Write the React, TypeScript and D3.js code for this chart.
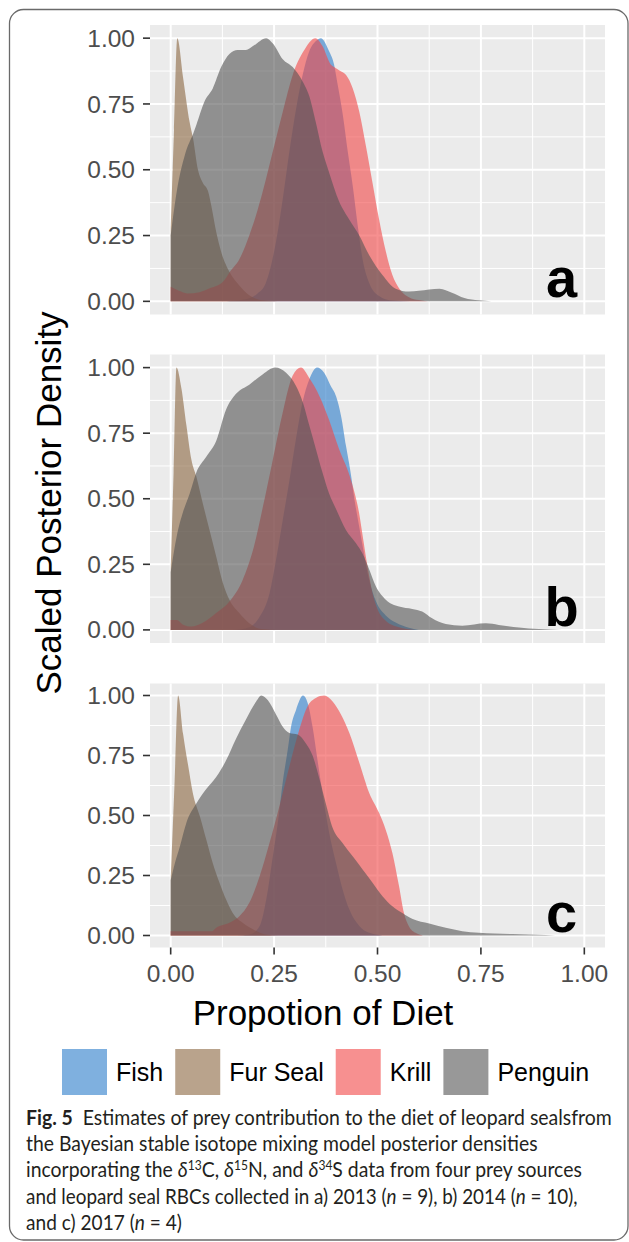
import React, { useEffect, useRef } from "react";
import * as d3 from "d3";

const W = 629;
const H = 1242;

const sources = ["Fish", "Fur Seal", "Krill", "Penguin"];
const sourceColors = ["#2A7BCA", "#8A663F", "#F24646", "#535353"];
const panelLabels = ["a", "b", "c"];
const tickValues = [0, 0.25, 0.5, 0.75, 1];
const minorValues = [0.125, 0.375, 0.625, 0.875];

// [proportion, scaled density]
const fishA = [[0, 0], [0.12, 0], [0.18, 0.008], [0.21, 0.03], [0.23, 0.07], [0.255, 0.23], [0.271, 0.39], [0.287, 0.57], [0.303, 0.73], [0.319, 0.86], [0.335, 0.95], [0.352, 0.99], [0.363, 1.0], [0.383, 0.95], [0.395, 0.9], [0.403, 0.83], [0.416, 0.71], [0.428, 0.57], [0.44, 0.44], [0.452, 0.29], [0.464, 0.16], [0.48, 0.07], [0.504, 0.02], [0.53, 0.004], [0.58, 0]];
const furA = [[0, 0.28], [0.008, 0.65], [0.016, 1.0], [0.03, 0.85], [0.046, 0.68], [0.054, 0.62], [0.066, 0.5], [0.078, 0.45], [0.09, 0.42], [0.098, 0.365], [0.11, 0.264], [0.122, 0.188], [0.142, 0.112], [0.166, 0.06], [0.19, 0.023], [0.223, 0.004], [0.26, 0]];
const krillA = [[0, 0.055], [0.02, 0.04], [0.04, 0.03], [0.07, 0.035], [0.09, 0.047], [0.127, 0.075], [0.142, 0.11], [0.166, 0.16], [0.19, 0.25], [0.205, 0.32], [0.223, 0.42], [0.247, 0.57], [0.271, 0.72], [0.295, 0.86], [0.321, 0.95], [0.35, 1.0], [0.367, 0.97], [0.387, 0.9], [0.395, 0.89], [0.41, 0.875], [0.424, 0.86], [0.44, 0.81], [0.456, 0.72], [0.472, 0.59], [0.488, 0.45], [0.504, 0.31], [0.52, 0.19], [0.536, 0.1], [0.552, 0.05], [0.576, 0.016], [0.6, 0.005], [0.63, 0]];
const penguinA = [[0, 0.25], [0.015, 0.42], [0.035, 0.56], [0.055, 0.64], [0.062, 0.67], [0.082, 0.76], [0.102, 0.81], [0.122, 0.89], [0.142, 0.94], [0.162, 0.955], [0.182, 0.955], [0.199, 0.97], [0.231, 1.0], [0.247, 0.98], [0.271, 0.92], [0.295, 0.89], [0.319, 0.835], [0.335, 0.78], [0.351, 0.68], [0.367, 0.57], [0.383, 0.49], [0.407, 0.38], [0.432, 0.31], [0.456, 0.25], [0.48, 0.175], [0.512, 0.1], [0.544, 0.048], [0.576, 0.037], [0.6, 0.04], [0.65, 0.048], [0.68, 0.033], [0.71, 0.013], [0.745, 0.004], [0.775, 0]];

const fishB = [[0, 0], [0.15, 0], [0.19, 0.01], [0.215, 0.05], [0.239, 0.14], [0.255, 0.27], [0.271, 0.42], [0.287, 0.57], [0.303, 0.73], [0.319, 0.87], [0.335, 0.955], [0.354, 1.0], [0.371, 0.98], [0.387, 0.93], [0.4, 0.89], [0.412, 0.815], [0.424, 0.7], [0.436, 0.59], [0.444, 0.5], [0.455, 0.4], [0.464, 0.32], [0.48, 0.19], [0.496, 0.11], [0.52, 0.055], [0.544, 0.028], [0.576, 0.008], [0.6, 0]];
const furB = [[0, 0.23], [0.007, 0.6], [0.014, 1.0], [0.026, 0.92], [0.038, 0.78], [0.05, 0.65], [0.062, 0.585], [0.078, 0.48], [0.094, 0.38], [0.11, 0.28], [0.126, 0.18], [0.142, 0.115], [0.166, 0.064], [0.19, 0.025], [0.22, 0.003], [0.25, 0]];
const krillB = [[0, 0.038], [0.015, 0.038], [0.03, 0.02], [0.05, 0.013], [0.075, 0.025], [0.11, 0.064], [0.142, 0.108], [0.174, 0.19], [0.2, 0.31], [0.223, 0.47], [0.247, 0.65], [0.271, 0.83], [0.295, 0.97], [0.315, 1.0], [0.335, 0.96], [0.36, 0.89], [0.383, 0.8], [0.407, 0.69], [0.43, 0.6], [0.445, 0.52], [0.455, 0.45], [0.464, 0.36], [0.475, 0.25], [0.488, 0.14], [0.5, 0.08], [0.52, 0.035], [0.552, 0.01], [0.59, 0]];
const penguinB = [[0, 0.22], [0.015, 0.36], [0.03, 0.45], [0.046, 0.52], [0.062, 0.6], [0.086, 0.66], [0.11, 0.72], [0.134, 0.84], [0.158, 0.9], [0.19, 0.935], [0.223, 0.975], [0.253, 1.0], [0.279, 0.98], [0.303, 0.93], [0.319, 0.87], [0.335, 0.78], [0.351, 0.69], [0.367, 0.6], [0.383, 0.52], [0.4, 0.46], [0.424, 0.38], [0.448, 0.33], [0.464, 0.29], [0.48, 0.23], [0.496, 0.166], [0.52, 0.115], [0.552, 0.089], [0.584, 0.08], [0.608, 0.07], [0.632, 0.044], [0.665, 0.022], [0.705, 0.016], [0.762, 0.025], [0.793, 0.019], [0.842, 0.009], [0.89, 0.003], [0.946, 0]];

const fishC = [[0, 0], [0.16, 0], [0.19, 0.004], [0.215, 0.04], [0.231, 0.15], [0.247, 0.33], [0.259, 0.47], [0.271, 0.64], [0.283, 0.775], [0.291, 0.87], [0.303, 0.94], [0.32, 1.0], [0.331, 0.97], [0.343, 0.87], [0.355, 0.73], [0.367, 0.594], [0.383, 0.43], [0.4, 0.3], [0.416, 0.19], [0.432, 0.108], [0.456, 0.04], [0.48, 0.011], [0.512, 0]];
const furC = [[0, 0.233], [0.009, 0.62], [0.018, 1.0], [0.03, 0.84], [0.042, 0.71], [0.054, 0.59], [0.07, 0.5], [0.086, 0.4], [0.102, 0.3], [0.118, 0.22], [0.134, 0.15], [0.15, 0.094], [0.174, 0.053], [0.2, 0.025], [0.23, 0.004], [0.26, 0]];
const krillC = [[0, 0.018], [0.1, 0.018], [0.11, 0.032], [0.142, 0.053], [0.166, 0.08], [0.19, 0.136], [0.215, 0.247], [0.239, 0.386], [0.263, 0.54], [0.287, 0.705], [0.311, 0.858], [0.331, 0.955], [0.351, 0.99], [0.371, 1.0], [0.391, 0.976], [0.412, 0.92], [0.432, 0.844], [0.456, 0.72], [0.48, 0.594], [0.504, 0.51], [0.52, 0.44], [0.536, 0.344], [0.552, 0.206], [0.564, 0.094], [0.576, 0.039], [0.592, 0.011], [0.61, 0]];
const penguinC = [[0, 0.23], [0.01, 0.3], [0.022, 0.37], [0.038, 0.47], [0.062, 0.55], [0.086, 0.61], [0.11, 0.66], [0.134, 0.73], [0.158, 0.82], [0.182, 0.9], [0.207, 0.976], [0.219, 1.0], [0.235, 0.98], [0.255, 0.92], [0.271, 0.87], [0.287, 0.844], [0.307, 0.837], [0.327, 0.8], [0.343, 0.75], [0.36, 0.65], [0.375, 0.55], [0.39, 0.455], [0.415, 0.386], [0.44, 0.33], [0.464, 0.275], [0.488, 0.22], [0.512, 0.164], [0.536, 0.122], [0.56, 0.094], [0.585, 0.069], [0.625, 0.05], [0.665, 0.032], [0.705, 0.018], [0.745, 0.011], [0.826, 0.006], [0.906, 0.002], [0.93, 0]];

const panelSeries = [
  [fishA, furA, krillA, penguinA],
  [fishB, furB, krillB, penguinB],
  [fishC, furC, krillC, penguinC],
];

const captionLines = [
  [{ t: "Fig. 5", b: true }, { t: "  Estimates of prey contribution to the diet of leopard sealsfrom" }],
  [{ t: "the Bayesian stable isotope mixing model posterior densities" }],
  [{ t: "incorporating the " }, { t: "δ", i: true }, { t: "13", sup: true }, { t: "C, " }, { t: "δ", i: true }, { t: "15", sup: true }, { t: "N, and " }, { t: "δ", i: true }, { t: "34", sup: true }, { t: "S data from four prey sources" }],
  [{ t: "and leopard seal RBCs collected in a) 2013 (" }, { t: "n", i: true }, { t: " = 9), b) 2014 (" }, { t: "n", i: true }, { t: " = 10)," }],
  [{ t: "and c) 2017 (" }, { t: "n", i: true }, { t: " = 4)" }],
];
const captionWidths = [586, 512, 556, 552, 156];

// layout
const panelTop = [25, 354.5, 683.5];
const panelBottom = [314.5, 643, 947.5];
const plotLeft = 150;
const plotRight = 605;
const font = "'Liberation Sans', Arial, Helvetica, sans-serif";

function Chart() {
  const ref = useRef<SVGSVGElement>(null);

  useEffect(() => {
    const svg = d3.select(ref.current);
    svg.selectAll("*").remove();

    svg.append("rect").attr("width", W).attr("height", H).attr("fill", "#ffffff");
    svg.append("rect")
      .attr("x", 9.5).attr("y", 9.5)
      .attr("width", 618.5).attr("height", 1230.5)
      .attr("rx", 14)
      .attr("fill", "none")
      .attr("stroke", "#6a6a6a")
      .attr("stroke-width", 1.3);

    const x = d3.scaleLinear().domain([-0.05, 1.05]).range([plotLeft, plotRight]);

    panelSeries.forEach((series, i) => {
      const y = d3.scaleLinear().domain([-0.05, 1.05]).range([panelBottom[i], panelTop[i]]);
      const g = svg.append("g");

      g.append("rect")
        .attr("x", plotLeft).attr("y", panelTop[i])
        .attr("width", plotRight - plotLeft).attr("height", panelBottom[i] - panelTop[i])
        .attr("fill", "#EBEBEB");

      minorValues.forEach((v) => {
        g.append("line").attr("x1", x(v)).attr("x2", x(v)).attr("y1", panelTop[i]).attr("y2", panelBottom[i])
          .attr("stroke", "#fff").attr("stroke-width", 1);
        g.append("line").attr("x1", plotLeft).attr("x2", plotRight).attr("y1", y(v)).attr("y2", y(v))
          .attr("stroke", "#fff").attr("stroke-width", 1);
      });
      tickValues.forEach((v) => {
        g.append("line").attr("x1", x(v)).attr("x2", x(v)).attr("y1", panelTop[i]).attr("y2", panelBottom[i])
          .attr("stroke", "#fff").attr("stroke-width", 2);
        g.append("line").attr("x1", plotLeft).attr("x2", plotRight).attr("y1", y(v)).attr("y2", y(v))
          .attr("stroke", "#fff").attr("stroke-width", 2);
      });

      const area = d3.area<number[]>()
        .x((d) => x(d[0]))
        .y0(y(0))
        .y1((d) => y(d[1]))
        .curve(d3.curveMonotoneX);

      series.forEach((s, k) => {
        g.append("path")
          .attr("d", area(s))
          .attr("fill", sourceColors[k])
          .attr("fill-opacity", 0.6);
      });

      // y axis
      tickValues.forEach((v) => {
        g.append("line").attr("x1", plotLeft - 7).attr("x2", plotLeft).attr("y1", y(v)).attr("y2", y(v))
          .attr("stroke", "#333").attr("stroke-width", 1.6);
        g.append("text")
          .attr("x", plotLeft - 15).attr("y", y(v)).attr("dy", "0.35em")
          .attr("text-anchor", "end")
          .attr("font-family", font).attr("font-size", 24.5).attr("fill", "#4D4D4D")
          .text(d3.format(".2f")(v));
      });

      g.append("text")
        .attr("x", x(0.945)).attr("y", y(0.015))
        .attr("text-anchor", "middle")
        .attr("font-family", font).attr("font-weight", "bold").attr("font-size", 56)
        .attr("fill", "#000")
        .text(panelLabels[i]);

      if (i === panelSeries.length - 1) {
        tickValues.forEach((v) => {
          g.append("line").attr("x1", x(v)).attr("x2", x(v)).attr("y1", panelBottom[i]).attr("y2", panelBottom[i] + 7)
            .attr("stroke", "#333").attr("stroke-width", 1.6);
          g.append("text")
            .attr("x", x(v)).attr("y", panelBottom[i] + 34)
            .attr("text-anchor", "middle")
            .attr("font-family", font).attr("font-size", 24.5).attr("fill", "#4D4D4D")
            .text(d3.format(".2f")(v));
        });
      }
    });

    svg.append("text")
      .attr("transform", "translate(61,503) rotate(-90)")
      .attr("text-anchor", "middle")
      .attr("font-family", font).attr("font-size", 35).attr("fill", "#000")
      .text("Scaled Posterior Density");

    svg.append("text")
      .attr("x", 323).attr("y", 1025)
      .attr("text-anchor", "middle")
      .attr("font-family", font).attr("font-size", 35).attr("fill", "#000")
      .text("Propotion of Diet");

    // legend
    let cursor = 62;
    sources.forEach((s, k) => {
      svg.append("rect")
        .attr("x", cursor).attr("y", 1049).attr("width", 45).attr("height", 46)
        .attr("fill", sourceColors[k]).attr("fill-opacity", 0.6);
      const t = svg.append("text")
        .attr("x", cursor + 54).attr("y", 1081)
        .attr("font-family", font).attr("font-size", 25).attr("fill", "#000")
        .text(s);
      const w = (t.node() as SVGTextElement).getComputedTextLength();
      cursor = cursor + 54 + w + 12;
    });

    // caption
    captionLines.forEach((parts, li) => {
      const baseline = 1125 + li * 26.2;
      const t = svg.append("text")
        .attr("x", 0).attr("y", 0)
        .attr("font-family", "Lato, 'Noto Sans', sans-serif")
        .attr("font-size", 21)
        .attr("fill", "#231F20")
        .attr("xml:space", "preserve")
        .style("white-space", "pre");
      parts.forEach((p: any) => {
        const ts = t.append("tspan").text(p.t);
        if (p.b) ts.attr("font-weight", "bold");
        if (p.i) ts.attr("font-style", "italic");
        if (p.sup) ts.attr("font-size", 13).attr("baseline-shift", "super");
      });
      const bw = (t.node() as SVGTextElement).getBBox().width;
      const sx = captionWidths[li] / bw;
      t.attr("transform", `translate(26,${baseline}) scale(${sx},1)`);
    });
  }, []);

  return (
    <svg
      ref={ref}
      width={W}
      height={H}
      style={{ position: "absolute", left: 0, top: 0, display: "block" }}
    />
  );
}

export default function App() {
  return <Chart />;
}
